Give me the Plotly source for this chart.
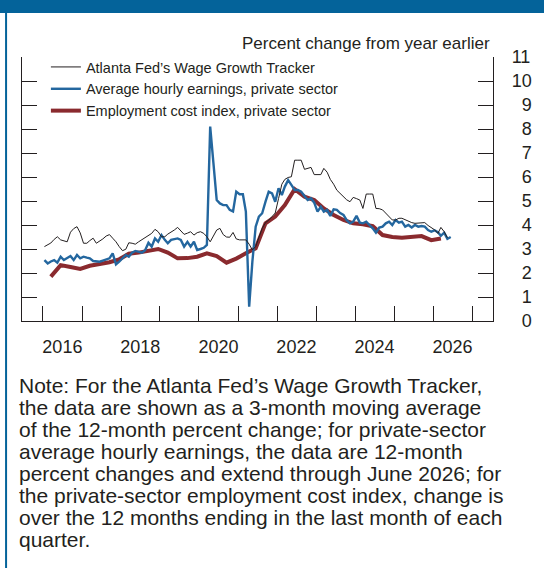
import pandas as pd
import plotly.graph_objects as go

# ---- data -------------------------------------------------------------
# Atlanta Fed Wage Growth Tracker, 3-month moving average, Jan 2016 - May 2026
wgt_values = [
    3.1, 3.18, 3.25, 3.4, 3.51, 3.38, 3.35, 3.3, 3.7, 3.85, 3.93, 3.67,
    3.24, 3.24, 3.35, 3.45, 3.24, 3.32, 3.42, 3.54, 3.6, 3.45, 3.3, 3.1,
    2.93, 2.99, 3.26, 3.24, 3.2, 3.3, 3.38, 3.49, 3.58, 3.65, 3.82, 3.72,
    3.51, 3.51, 3.62, 3.7, 3.79, 3.9, 3.74, 3.61, 3.66, 3.72, 3.58, 3.68,
    3.72, 3.65, 3.51, 3.3, 3.54, 3.79, 3.86, 3.6, 3.5, 3.49, 3.69, 3.42,
    3.38, 3.38, 3.38, 3.2, 2.96, 3.1, 3.5, 3.86, 4.1, 4.2, 4.35, 4.5,
    5.1, 5.7, 5.9, 5.98, 6.01, 6.7, 6.7, 6.7, 6.32, 6.35, 6.4, 6.1,
    6.1, 6.1, 6.36, 6.2, 5.9, 5.7, 5.45, 5.3, 5.15, 5.05, 4.97, 5.15,
    5.1, 5.04, 4.69, 5.29, 5.29, 5.29, 4.69, 4.68, 4.63, 4.5, 4.35, 4.21,
    4.21, 4.28, 4.28, 4.22, 4.15, 4.1, 4.07, 4.07, 4.07, 4.1, 3.98, 3.88,
    3.8, 3.65, 3.9, 3.72, 3.47,
]

# Average hourly earnings, private sector, 12-month change, Jan 2016 - Jun 2026
ahe_values = [
    2.54, 2.4, 2.48, 2.54, 2.43, 2.68, 2.54, 2.62, 2.71, 2.54, 2.75, 2.61,
    2.68, 2.64, 2.61, 2.5, 2.47, 2.47, 2.52, 2.57, 2.61, 2.82, 2.36, 2.47,
    2.61, 2.75, 2.68, 2.85, 2.92, 2.89, 2.85, 2.95, 3.26, 3.1, 3.44, 3.3,
    3.58, 3.38, 3.24, 3.38, 3.42, 3.44, 3.38, 3.1, 3.3, 3.1, 3.3, 2.96,
    3.0, 3.05, 3.17, 8.1, 6.6, 5.04, 4.9, 4.83, 4.83, 4.63, 4.56, 5.39,
    5.28, 5.28, 4.56, 0.6, 2.47, 3.93, 4.35, 4.49, 4.97, 5.39, 5.32, 4.97,
    5.53, 5.25, 5.6, 5.87, 5.67, 5.46, 5.46, 5.39, 5.21, 5.04, 5.11, 4.93,
    4.56, 4.76, 4.56, 4.63, 4.38, 4.65, 4.63, 4.5, 4.42, 4.2, 4.07, 4.14,
    4.38, 4.1, 4.07, 4.14, 4.0, 3.86, 3.68, 3.89, 3.93, 4.07, 4.14, 4.0,
    4.21, 4.1, 4.14, 3.93, 4.0, 3.9, 4.0, 3.93, 3.96, 3.93, 3.79, 3.72,
    3.78, 3.7, 3.55, 3.68, 3.42, 3.5,
]

# Employment cost index, private sector, 12-month change, Q1 2016 - Q1 2026
eci_values = [
    1.85, 2.33, 2.25, 2.17,
    2.3, 2.36, 2.45, 2.57,
    2.8, 2.85, 2.92, 3.0,
    2.85, 2.61, 2.62, 2.68,
    2.82, 2.7, 2.43, 2.6,
    2.82, 3.03, 4.07, 4.35,
    4.83, 5.49, 5.18, 5.04,
    4.69, 4.42, 4.21, 4.07,
    4.03, 3.95, 3.58, 3.5,
    3.47, 3.5, 3.54, 3.37,
    3.44,
]

series_names = [
    "Atlanta Fed’s Wage Growth Tracker",
    "Average hourly earnings, private sector",
    "Employment cost index, private sector",
]

year_tick_labels = ["2016", "2018", "2020", "2022", "2024", "2026"]
y_tick_values = list(range(0, 12))
y_tick_labels = ["\u2007" + str(v) if v < 10 else str(v) for v in y_tick_values]

axis_title = "Percent change from year earlier"
note_lines = [
    "Note: For the Atlanta Fed’s Wage Growth Tracker,",
    "the data are shown as a 3-month moving average",
    "of the 12-month percent change; for private-sector",
    "average hourly earnings, the data are 12-month",
    "percent changes and extend through June 2026; for",
    "the private-sector employment cost index, change is",
    "over the 12 months ending in the last month of each",
    "quarter.",
]

# ---- dates ------------------------------------------------------------
mid = pd.Timedelta(days=14)
wgt_dates = pd.date_range("2016-01-01", periods=len(wgt_values), freq="MS") + mid
ahe_dates = pd.date_range("2016-01-01", periods=len(ahe_values), freq="MS") + mid
eci_dates = pd.date_range("2016-03-01", periods=len(eci_values), freq="3MS") + mid

year_ticks = pd.date_range("2016-01-01", "2027-01-01", freq="YS")
label_pos = [pd.Timestamp(f"{y}-07-01") for y in year_tick_labels]

# ---- figure -----------------------------------------------------------
W, H = 544, 568
ML, MR, MT, MB = 22, 49, 57, 247
PW, PH = W - ML - MR, H - MT - MB

def px_x(x):
    return (x - ML) / PW

def px_y(y):
    return (H - MB - y) / PH

INK = "#231f20"
BLUE = "#24679f"
RED = "#8a2a2e"
FRAME = "#04639a"

chart_font = "Liberation Sans"

fig = go.Figure()
fig.add_trace(go.Scatter(
    x=eci_dates, y=eci_values, name=series_names[2], mode="lines",
    line=dict(color=RED, width=4), legendrank=3,
))
fig.add_trace(go.Scatter(
    x=ahe_dates, y=ahe_values, name=series_names[1], mode="lines",
    line=dict(color=BLUE, width=2.4), legendrank=2,
))
fig.add_trace(go.Scatter(
    x=wgt_dates, y=wgt_values, name=series_names[0], mode="lines",
    line=dict(color=INK, width=1), legendrank=1,
))

fig.update_layout(
    width=W, height=H, autosize=False,
    margin=dict(l=ML, r=MR, t=MT, b=MB, pad=0),
    paper_bgcolor="white", plot_bgcolor="white",
    font=dict(family=chart_font, color=INK, size=15),
    showlegend=True,
    legend=dict(
        x=px_x(46), y=px_y(51), xanchor="left", yanchor="top",
        bgcolor="rgba(0,0,0,0)", borderwidth=0,
        font=dict(family=chart_font, size=14.5, color=INK),
        traceorder="normal", tracegroupgap=0,
    ),
    xaxis=dict(
        type="date", range=["2015-06-19", "2027-07-16"],
        showgrid=False, zeroline=False,
        showline=True, linecolor=INK, linewidth=1.2,
        tickmode="array", tickvals=label_pos, ticktext=year_tick_labels,
        ticks="", ticklabelstandoff=9,
        tickfont=dict(family=chart_font, size=18, color=INK),
        minor=dict(tickmode="array", tickvals=list(year_ticks), ticks="inside",
                   ticklen=15, tickwidth=1.2, tickcolor=INK, showgrid=False),
    ),
    yaxis=dict(
        range=[0, 11], side="right", showgrid=False, zeroline=False,
        showline=True, linecolor=INK, linewidth=1.2, mirror="ticks",
        tickmode="array", tickvals=y_tick_values, ticktext=y_tick_labels,
        ticks="inside", ticklen=15, tickwidth=1.2, tickcolor=INK,
        ticklabelstandoff=14,
        tickfont=dict(family=chart_font, size=18, color=INK),
    ),
)

# blue header band and left rule of the panel
fig.add_shape(type="rect", xref="paper", yref="paper",
              x0=px_x(-5), x1=px_x(W + 5), y0=px_y(13), y1=px_y(-5),
              fillcolor=FRAME, line=dict(width=0), layer="above")
fig.add_shape(type="line", xref="paper", yref="paper",
              x0=px_x(6), x1=px_x(6), y0=px_y(13), y1=px_y(H + 5),
              line=dict(color=FRAME, width=2))

fig.add_annotation(text=axis_title, xref="paper", yref="paper",
                   x=px_x(494), y=px_y(43), xanchor="right", yanchor="middle",
                   showarrow=False,
                   font=dict(family=chart_font, size=17, color=INK))

for i, line in enumerate(note_lines):
    fig.add_annotation(text=line, xref="paper", yref="paper",
                       x=px_x(17), y=px_y(385 + 22 * i),
                       xanchor="left", yanchor="middle", showarrow=False,
                       font=dict(family=chart_font, size=21, color=INK))

fig.write_html("out.html")
